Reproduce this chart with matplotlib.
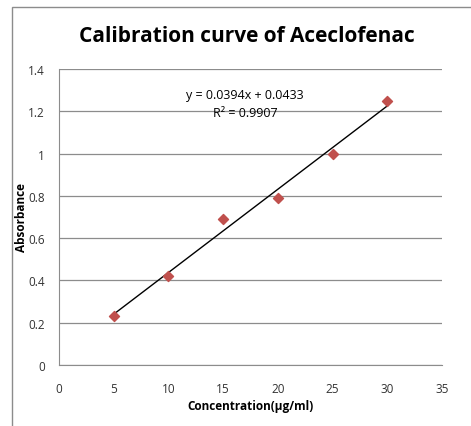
import matplotlib.pyplot as plt
import numpy as np
from matplotlib.patches import Rectangle

# data
conc = [5, 10, 15, 20, 25, 30]
absorbance = [0.23, 0.42, 0.69, 0.79, 1.0, 1.25]
slope = 0.0394
intercept = 0.0433
r2 = 0.9907

plt.rcParams['font.family'] = ['Open Sans', 'DejaVu Sans']

fig = plt.figure(figsize=(4.71, 4.27), dpi=100)

# outer chart frame (cut off at right and bottom)
fig.patches.append(Rectangle((12 / 471, -0.1), 1.2, 1 - 8 / 427 + 0.1,
                             transform=fig.transFigure, fill=False,
                             edgecolor='#8c8c8c', linewidth=1.0))

ax = fig.add_axes([59 / 471, 1 - 366 / 427, (442 - 59) / 471, (366 - 70) / 427])

ax.scatter(conc, absorbance, marker='D', s=26, color='#C0504D', zorder=3)

xfit = np.array([conc[0], conc[-1]])
ax.plot(xfit, slope * xfit + intercept, color='black', linewidth=1.0, zorder=2)

ax.set_xlim(0, 35)
ax.set_ylim(0, 1.4)
ax.set_xticks(range(0, 36, 5))
ax.set_yticks([0, 0.2, 0.4, 0.6, 0.8, 1.0, 1.2, 1.4])
ax.set_yticklabels(['0', '0.2', '0.4', '0.6', '0.8', '1', '1.2', '1.4'])
ax.tick_params(length=0, labelsize=8.5, colors='#333333')
ax.tick_params(axis='y', pad=10)
ax.tick_params(axis='x', pad=12)
ax.grid(axis='y', color='#8c8c8c', linewidth=0.9)
ax.set_axisbelow(True)
for s in ['top', 'right']:
    ax.spines[s].set_visible(False)
for s in ['left', 'bottom']:
    ax.spines[s].set_color('#8c8c8c')

ax.set_xlabel('Concentration(µg/ml)', fontsize=8.5, fontweight='bold', labelpad=3)
ax.set_ylabel('Absorbance', fontsize=8.5, fontweight='bold', labelpad=0)

ax.text(17.0, 1.28, 'y = 0.0394x + 0.0433', fontsize=9, ha='center', va='center')
ax.text(17.0, 1.195, 'R² = %.4f' % r2, fontsize=9, ha='center', va='center')

fig.text(247 / 471, 1 - 36 / 427, 'Calibration curve of Aceclofenac',
         fontsize=15, fontweight='bold', ha='center', va='center')

fig.savefig('out.png', dpi=100)
